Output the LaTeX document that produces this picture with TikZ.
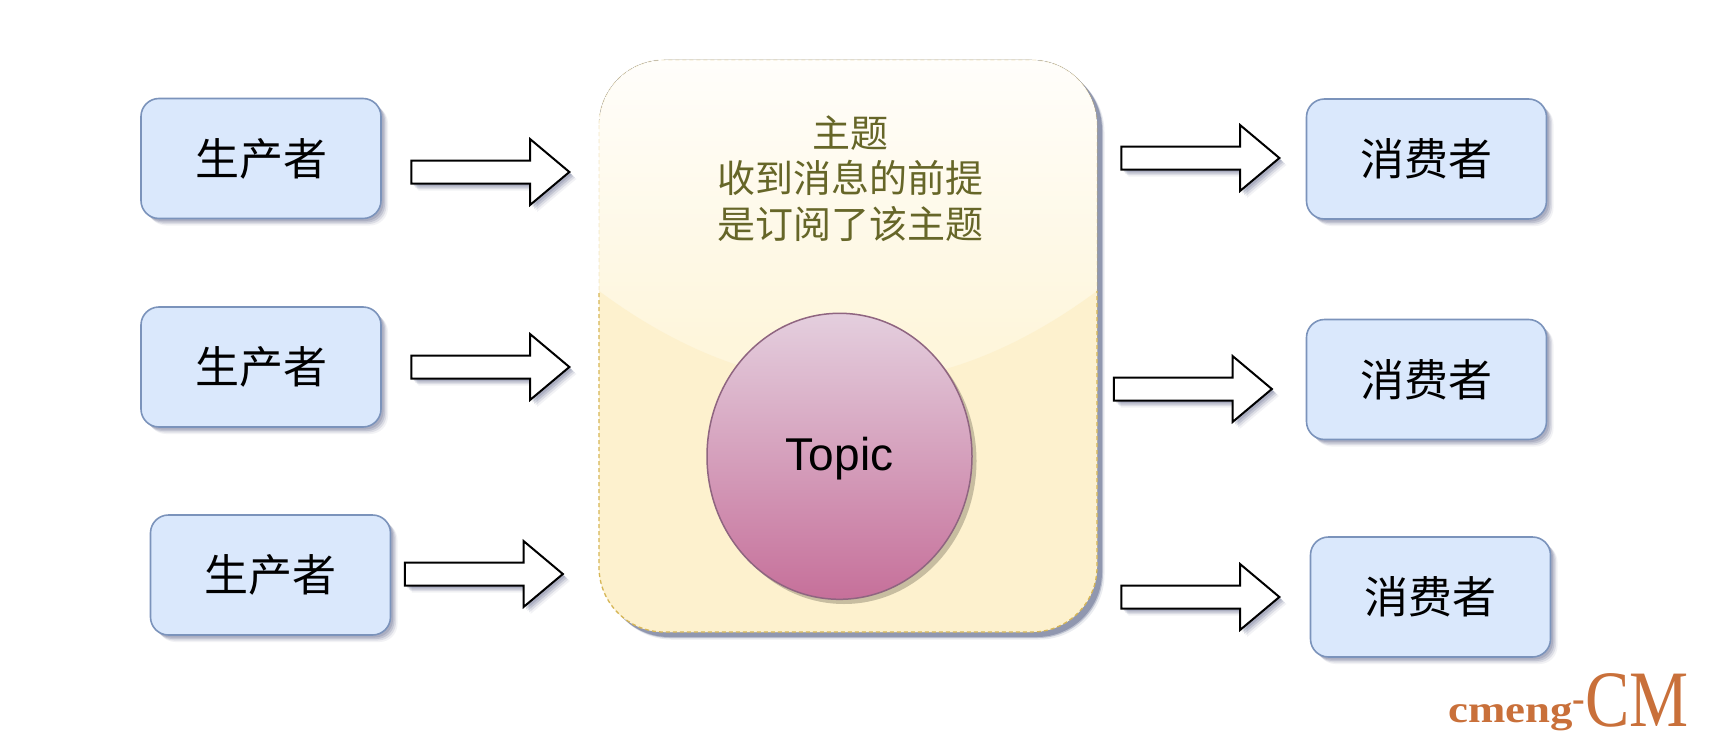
\documentclass[tikz,border=0pt]{standalone}
\usepackage{fontspec}
\setmainfont{Liberation Sans}
\newfontfamily\cjk{Noto Sans CJK SC}
\newfontfamily\logofont{Liberation Serif}
\usetikzlibrary{shapes.arrows,shapes.geometric}
\definecolor{boxfill}{HTML}{DAE8FC}
\definecolor{boxline}{HTML}{7B93BB}
\definecolor{bigline}{HTML}{D6B656}
\definecolor{bigfill}{HTML}{FDF1CE}
\definecolor{bigtext}{HTML}{666628}
\definecolor{shadowblue}{HTML}{5A6488}
\definecolor{ringline}{HTML}{8F6580}
\definecolor{ringshadow}{HTML}{C7BDA0}
\definecolor{logocol}{HTML}{C9703A}
\definecolor{glosstop}{HTML}{FFFEFC}
\definecolor{glossbot}{HTML}{FEF6DC}
\definecolor{ringtop}{HTML}{E4CFDE}
\definecolor{ringbot}{HTML}{C6709A}
\tikzset{
  softshadow/.style={
    preaction={draw=none,fill=shadowblue,fill opacity=.08,transform canvas={xshift=7pt,yshift=-7pt}},
    preaction={draw=none,fill=shadowblue,fill opacity=.14,transform canvas={xshift=5.5pt,yshift=-5.5pt}},
    preaction={draw=none,fill=shadowblue,fill opacity=.20,transform canvas={xshift=4pt,yshift=-4pt}},
    preaction={draw=none,fill=shadowblue,fill opacity=.22,transform canvas={xshift=2.5pt,yshift=-2.5pt}}},
  rolebox/.style={softshadow,rectangle,rounded corners=18pt,draw=boxline,line width=1.6pt,fill=boxfill,
    minimum width=240pt,minimum height=120pt,inner sep=0pt,font=\cjk\fontsize{44}{50}\selectfont,text=black},
  blockarrow/.style={softshadow,single arrow,draw=black,line width=2pt,fill=white,minimum height=158pt,
    inner sep=0pt,text height=21pt,text depth=0pt,text width=0pt,
    single arrow head extend=21.5pt,single arrow tip angle=80,miter limit=10},
  bigbox/.style={rectangle,rounded corners=65pt,minimum width=498pt,minimum height=572pt,inner sep=0pt},
  topicring/.style={ellipse,draw=ringline,line width=1.5pt,top color=ringtop,bottom color=ringbot,
    minimum width=265pt,minimum height=286pt,inner sep=0pt},
}
\begin{document}
\begin{tikzpicture}[x=1pt,y=-1pt,line join=miter]
\useasboundingbox[fill=white] (0,0) rectangle (1724,752);
% big box: shadow, body, gloss, border
\node[bigbox,fill=shadowblue,fill opacity=.12] at (855.5,353.5) {};
\node[bigbox,fill=shadowblue,fill opacity=.30] at (854,352) {};
\node[bigbox,fill=shadowblue,fill opacity=.45] at (853,351) {};
\node[bigbox,fill=bigfill] (topicbox) at (848,346) {};
\begin{scope}
  \clip[rounded corners=65pt] (599,60) rectangle (1097,632);
  \fill[top color=glosstop,bottom color=glossbot] (590,50) rectangle (1105,340);
  \fill[glossbot] (590,339) rectangle (1105,391);
  \fill[bigfill] (590,291) -- (599,291)
     .. controls (765,414) and (931,414) .. (1097,291) -- (1105,291) -- (1105,640) -- (590,640) -- cycle;
\end{scope}
\begin{scope}
  \clip (590,50) rectangle (1105,291);
  \draw[bigline,line width=1.3pt,dash pattern=on 4pt off 3pt,draw opacity=.18,rounded corners=65pt] (599,60) rectangle (1097,632);
\end{scope}
\begin{scope}
  \clip (590,291) rectangle (1105,640);
  \draw[bigline,line width=1.3pt,dash pattern=on 4pt off 3pt,rounded corners=65pt] (599,60) rectangle (1097,632);
\end{scope}
\node[align=center,text=bigtext,font=\cjk\fontsize{38}{45.6}\selectfont] (topictext) at (850,178.5) {主题\\收到消息的前提\\是订阅了该主题};
% ring
\fill[ringshadow] (844,461) ellipse [x radius=132.5pt,y radius=143pt];
\node[topicring] (topicnode) at (839.5,456.3) {};
\node[font=\fontsize{46}{50}\selectfont,text=black] (topiclabel) at (839.5,459) {Topic};
% producers
\node[rolebox] (p1) at (261,158.5) {生产者};
\node[rolebox] (p2) at (261,367) {生产者};
\node[rolebox] (p3) at (270.5,575) {生产者};
% consumers
\node[rolebox] (c1) at (1426.5,159) {消费者};
\node[rolebox] (c2) at (1426.5,379.5) {消费者};
\node[rolebox] (c3) at (1430.5,597) {消费者};
% arrows
\node[blockarrow] (a1) at (483.5,172) {};
\node[blockarrow] (a2) at (483.5,367) {};
\node[blockarrow] (a3) at (477,574) {};
\node[blockarrow] (b1) at (1193.5,158) {};
\node[blockarrow] (b2) at (1186,389) {};
\node[blockarrow] (b3) at (1193.5,597) {};
% logo
\node[anchor=base west,inner sep=0pt,text=logocol,font=\logofont] (logo) at (1448,722)
  {\scalebox{1.18}[1]{\fontsize{38}{38}\selectfont\bfseries cmeng}\raisebox{11pt}{\fontsize{38}{38}\selectfont\bfseries -}\raisebox{-4pt}{\scalebox{.83}[1]{\fontsize{80}{80}\selectfont CM}}};
\end{tikzpicture}
\end{document}
